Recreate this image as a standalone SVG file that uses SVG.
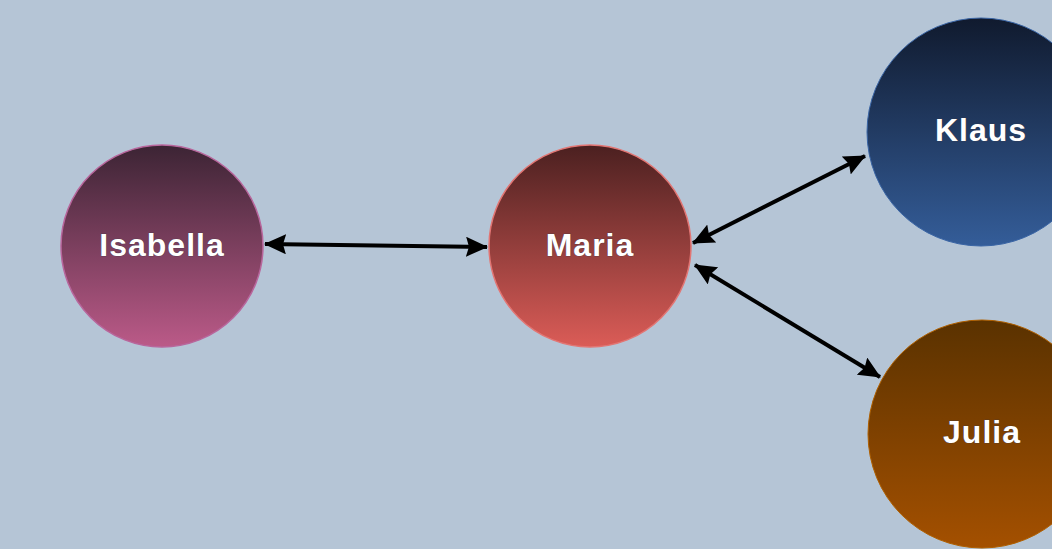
<svg xmlns="http://www.w3.org/2000/svg" width="1052" height="549" viewBox="0 0 1052 549">
<defs>
<linearGradient id="gI" x1="0" y1="0" x2="0" y2="1"><stop offset="0" stop-color="#3c2434"/><stop offset="1" stop-color="#bb5a88"/></linearGradient>
<linearGradient id="gM" x1="0" y1="0" x2="0" y2="1"><stop offset="0" stop-color="#4b2020"/><stop offset="1" stop-color="#db5c57"/></linearGradient>
<linearGradient id="gK" x1="0" y1="0" x2="0" y2="1"><stop offset="0" stop-color="#101a2e"/><stop offset="1" stop-color="#345d99"/></linearGradient>
<linearGradient id="gJ" x1="0" y1="0" x2="0" y2="1"><stop offset="0" stop-color="#5a3200"/><stop offset="1" stop-color="#a45000"/></linearGradient>
<marker id="ah" viewBox="0 0 22 20" refX="21" refY="10" markerWidth="22" markerHeight="20" markerUnits="userSpaceOnUse" orient="auto-start-reverse">
<path d="M0,0 L22,10 L0,20 L3,10 Z" fill="#000"/>
</marker>
</defs>
<style>
.lbl{font-family:"Liberation Sans",Arial,sans-serif;font-weight:bold;font-size:32px;fill:#fff;text-anchor:middle;letter-spacing:1px;stroke:#3a3a4a;stroke-width:0.6px;paint-order:stroke}
.conn{stroke:#000;stroke-width:4;fill:none;marker-start:url(#ah);marker-end:url(#ah)}
</style>
<rect width="1052" height="549" fill="#b5c5d6"/>
<g id="connectors">
<path class="conn" d="M265,244 L487,247"/>
<path class="conn" d="M693,243 L865,156"/>
<path class="conn" d="M695,265 L880,377"/>
</g>
<g id="isabella">
<circle cx="162" cy="246" r="101" fill="url(#gI)" stroke="#b8669c" stroke-width="1.5"/>
<text class="lbl" x="162" y="256">Isabella</text>
</g>
<g id="maria">
<circle cx="590" cy="246" r="101" fill="url(#gM)" stroke="#e27573" stroke-width="1.5"/>
<text class="lbl" x="590" y="256">Maria</text>
</g>
<g id="klaus">
<circle cx="981" cy="132" r="114" fill="url(#gK)" stroke="#3a65a5" stroke-width="1"/>
<text class="lbl" x="981" y="141">Klaus</text>
</g>
<g id="julia">
<circle cx="982" cy="434" r="114" fill="url(#gJ)" stroke="#b06000" stroke-width="1"/>
<text class="lbl" x="982" y="443">Julia</text>
</g>
</svg>
